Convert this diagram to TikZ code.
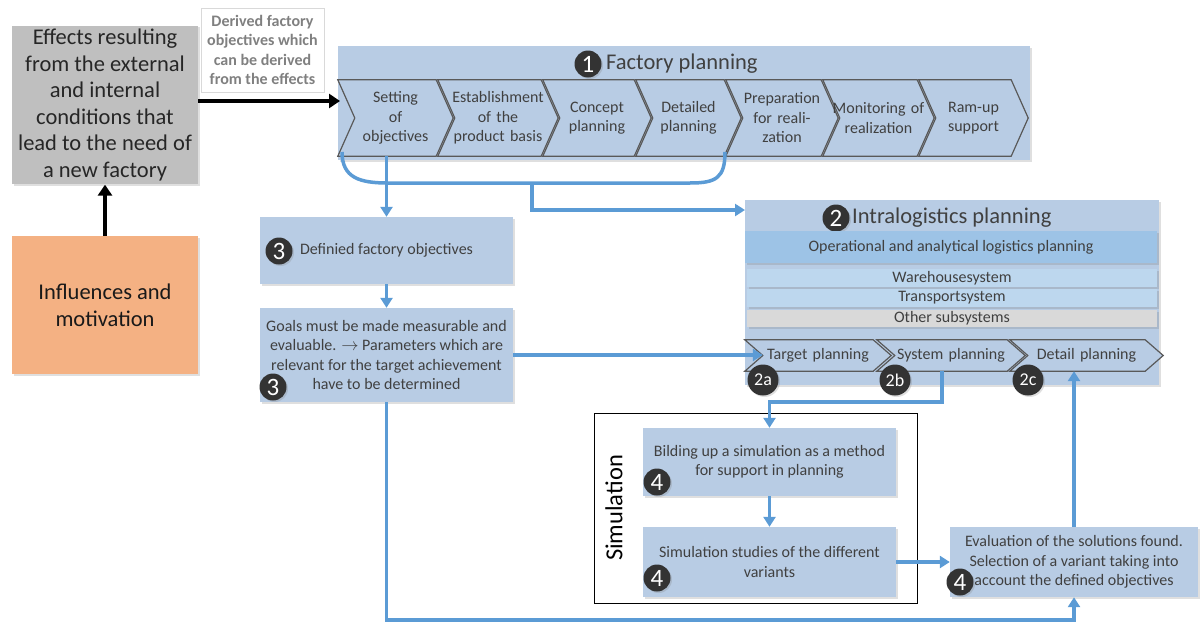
\documentclass[tikz,border=0pt]{standalone}
\usepackage{fontspec}
\setmainfont{Carlito}
\usetikzlibrary{calc,shadows,arrows.meta,backgrounds}
\definecolor{boxblue}{HTML}{B8CCE4}
\definecolor{bandblue}{HTML}{9DC3E6}
\definecolor{paleblue}{HTML}{BDD7EE}
\definecolor{linkblue}{HTML}{5B9BD5}
\definecolor{txtgray}{HTML}{404040}
\definecolor{chevgray}{HTML}{595959}
\definecolor{inflorange}{HTML}{F4B183}
\definecolor{effgray}{HTML}{BFBFBF}
\definecolor{othergray}{HTML}{D9D9D9}
\definecolor{dotblack}{HTML}{333333}
\tikzset{
  softshadow/.style={drop shadow={opacity=0.25,shadow xshift=1.5pt,shadow yshift=-1.5pt}},
  smalltext/.style={font=\fontsize{16}{19.5}\selectfont,text=txtgray},
  bluebox/.style={rectangle,fill=boxblue,smalltext,align=center,inner sep=2pt,softshadow},
  panel/.style={rectangle,fill=boxblue,inner sep=0pt,softshadow},
  band/.style={rectangle,smalltext,inner sep=0pt,softshadow},
  chevtxt/.style={smalltext,align=center,inner sep=0pt,minimum height=#1},
  chevedge/.style={fill=boxblue,draw=chevgray,line width=1.2pt,line join=miter},
  titletext/.style={font=\fontsize{22.5}{26}\selectfont,text=txtgray,inner sep=0pt},
  numdot/.style={circle,fill=dotblack,text=white,inner sep=0pt,minimum size=27pt,font=\fontsize{25}{25}\selectfont,softshadow},
  subnum/.style={circle,fill=dotblack,text=white,inner sep=0pt,minimum size=31pt,font=\fontsize{18}{18}\selectfont,softshadow},
  flow/.style={draw=linkblue,line width=3.5pt,-{Triangle[length=10pt,width=12pt]}},
  linkline/.style={draw=linkblue,line width=3.5pt},
  blackflow/.style={draw=black,line width=3.2pt,-{Triangle[length=11pt,width=14pt]}}
}
\newcommand{\chevpath}[2]{\draw[chevedge] ($(#1.north west)+(-#2,0)$) -- (#1.north east) -- ($(#1.east)+(#2,0)$) -- (#1.south east) -- ($(#1.south west)+(-#2,0)$) -- (#1.west) -- cycle;}
\begin{document}
\begin{tikzpicture}[x=1pt,y=-1pt]
\useasboundingbox (0,0) rectangle (1201,621);
\node[rectangle,fill=effgray,minimum width=186,minimum height=156,align=center,font=\fontsize{22.5}{26.6}\selectfont,text=black!85,softshadow] (effects) at (105,105) {Effects resulting\\from the external\\and internal\\conditions that\\lead to the need of\\a new factory};
\node[rectangle,fill=inflorange,minimum width=186,minimum height=138,align=center,font=\fontsize{22.5}{27}\selectfont,text=black!90,softshadow] (influence) at (105,305) {Influences and\\motivation};
\node[rectangle,draw=black!15,fill=white,minimum width=123,minimum height=84,align=center,font=\bfseries\fontsize{16}{19.5}\selectfont,text=black!50] (derived) at (262.5,50) {Derived factory\\objectives which\\can be derived\\from the effects};

\node[chevtxt=76,text width=81] (s1) at (395.5,118) {Setting\\of\\objectives};
\node[chevtxt=76,text width=86] (s2) at (498,118) {\makebox[0pt]{Establishment}\\of the\\\makebox[0pt]{product basis}};
\node[chevtxt=76,text width=74] (s3) at (597,118) {Concept\\planning};
\node[chevtxt=76,text width=71] (s4) at (688.5,118) {Detailed\\planning};
\node[chevtxt=76,text width=78] (s5) at (782,118) {\makebox[0pt]{Preparation}\\for reali-\\zation};
\node[chevtxt=76,text width=77] (s6) at (878.5,118) {\makebox[0pt]{Monitoring of}\\realization};
\node[chevtxt=76,text width=75] (s7) at (973.5,118) {Ram-up\\support};
\node[numdot] (n1) at (588,64) {1};
\node[titletext,anchor=west] (fptitle) at (606,64) {Factory planning};

\node[numdot] (n2) at (836,218) {2};
\node[titletext,anchor=west] (iltitle) at (852,218) {Intralogistics planning};
\node[band,fill=bandblue,minimum width=412,minimum height=32] (oper) at (951,247) {Operational and analytical logistics planning};
\node[band,fill=paleblue,minimum width=410,minimum height=18] (whs) at (952,278) {Warehousesystem};
\node[band,fill=paleblue,minimum width=410,minimum height=18] (tps) at (952,298) {Transportsystem};
\node[band,fill=othergray,minimum width=410,minimum height=17] (oth) at (952,318.5) {Other subsystems};
\node[chevtxt=31,text width=110] (tp) at (818,355.5) {\makebox[0pt]{Target planning}};
\node[chevtxt=31,text width=112] (sp) at (951,355.5) {\makebox[0pt]{System planning}};
\node[chevtxt=31,text width=117] (dp) at (1086.5,355.5) {\makebox[0pt]{Detail planning}};

\node[bluebox,minimum width=253,minimum height=67] (defobj) at (386.5,250.5) {Definied factory objectives};
\node[numdot] (n3a) at (279,251) {3};
\node[bluebox,minimum width=253,minimum height=94] (goals) at (386.5,355) {Goals must be made measurable and\\evaluable. $\rightarrow$ Parameters which are\\relevant for the target achievement\\have to be determined};
\node[numdot] (n3b) at (273,387) {3};

\node[rectangle,draw=black,line width=1pt,minimum width=323,minimum height=190] (simframe) at (755.5,508) {};
\node[rotate=90,font=\fontsize{24.5}{24.5}\selectfont,text=black] (simlabel) at (614,508) {Simulation};
\node[bluebox,minimum width=253,minimum height=68] (build) at (769.5,462) {Bilding up a simulation as a method\\for support in planning};
\node[numdot] (n4a) at (657,482) {4};
\node[bluebox,minimum width=253,minimum height=70] (studies) at (769.5,562) {Simulation studies of the different\\variants};
\node[numdot] (n4b) at (657,578) {4};
\node[bluebox,minimum width=248,minimum height=70] (eval) at (1074,562) {Evaluation of the solutions found.\\Selection of a variant taking into\\account the defined objectives};
\node[numdot] (n4c) at (960,582) {4};

\begin{scope}[on background layer]
\node[panel,minimum width=692,minimum height=114] (factory) at (684,103) {};
\node[panel,minimum width=414,minimum height=185] (intra) at (952,292.5) {};
\foreach \i in {1,...,7} {\chevpath{s\i}{17}}
\foreach \s in {tp,sp,dp} {\chevpath{\s}{18}}
\end{scope}

\node[subnum] (n2a) at (763,380) {2a};
\node[subnum] (n2b) at (895,380) {2b};
\node[subnum] (n2c) at (1028,380) {2c};

\coordinate (fpin) at (340,101);
\coordinate (brl) at (342,152);
\coordinate (brr) at (725,152);
\coordinate (brm) at (532,183);
\coordinate (ilin) at (745,210);
\draw[blackflow] (influence.north) -- (effects.south);
\draw[blackflow] (effects.east |- fpin) -- (fpin);
\draw[linkline] (brl) .. controls (342,178) and (360,183) .. (388,183) -- (690,183) .. controls (716,183) and (725,178) .. (brr);
\draw[flow] (defobj.north |- s1.south) -- (defobj.north);
\draw[flow] (brm) |- (ilin);
\draw[flow] (defobj) -- (goals);
\draw[flow] (goals.east) -- (goals.east -| tp.west);
\draw[flow] (goals.south) -- ++(0,218) -| (eval.south);
\draw[flow] ($(sp.south)+(-9,0)$) -- ++(0,31) -| (build.north);
\draw[flow] (build) -- (studies);
\draw[flow] (studies.east) -- (eval.west);
\draw[flow] (eval.north) -- (eval.north |- dp.south);
\end{tikzpicture}
\end{document}
